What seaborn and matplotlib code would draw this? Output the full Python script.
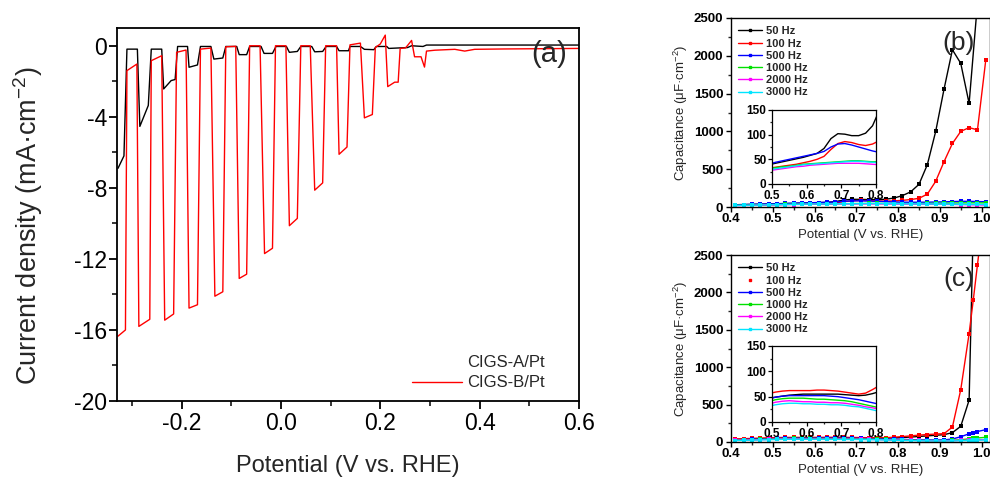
import matplotlib
matplotlib.use("Agg")
import matplotlib.pyplot as plt
from matplotlib.lines import Line2D
from matplotlib.ticker import MultipleLocator
import numpy as np
import pandas as pd
import seaborn as sns

# ---- panel (a): chopped-light LSV, vertices ----
a_black_v = [-0.328, -0.316, -0.310, -0.289, -0.284, -0.267, -0.261, -0.240, -0.236, -0.221,
             -0.213, -0.208, -0.188, -0.185, -0.168, -0.162, -0.141, -0.135, -0.117, -0.111,
             -0.089, -0.084, -0.069, -0.063, -0.040, -0.034, -0.017, -0.010, 0.011, 0.017,
             0.033, 0.040, 0.062, 0.068, 0.084, 0.091, 0.112, 0.117, 0.136, 0.139,
             0.160, 0.168, 0.187, 0.192, 0.213, 0.217, 0.255, 0.263, 0.286, 0.293, 0.600]
a_black_j = [-6.9, -6.2, -0.19, -0.19, -4.54, -3.36, -0.19, -0.19, -2.43, -1.96,
             -1.9, -0.04, -0.04, -1.21, -1.08, -0.04, -0.04, -0.75, -0.69, -0.04,
             -0.04, -0.5, -0.5, -0.04, -0.04, -0.43, -0.43, -0.04, -0.04, -0.37,
             -0.32, -0.04, -0.04, -0.34, -0.32, -0.04, -0.04, -0.28, -0.28, -0.04,
             -0.04, -0.2, -0.22, -0.04, -0.04, -0.15, -0.1, 0.0, -0.04, 0.04, 0.04]

a_red_v = [-0.328, -0.313, -0.310, -0.290, -0.286, -0.264, -0.261, -0.240, -0.234, -0.216,
           -0.210, -0.191, -0.185, -0.168, -0.162, -0.141, -0.133, -0.117, -0.111, -0.091,
           -0.084, -0.069, -0.063, -0.042, -0.033, -0.017, -0.011, 0.010, 0.017, 0.033,
           0.040, 0.059, 0.068, 0.084, 0.090, 0.112, 0.117, 0.133, 0.139, 0.160,
           0.168, 0.184, 0.190, 0.200, 0.210, 0.215, 0.229, 0.236, 0.240, 0.251,
           0.263, 0.269, 0.282, 0.289, 0.293, 0.310, 0.350, 0.370, 0.390, 0.450, 0.600]
a_red_j = [-16.35, -16.0, -1.4, -1.03, -15.8, -15.4, -0.84, -0.56, -15.45, -15.1,
           -0.37, -0.24, -14.77, -14.58, -0.19, -0.13, -14.1, -13.85, -0.06, -0.03,
           -13.1, -12.86, 0.0, 0.0, -11.7, -11.4, 0.0, 0.0, -10.13, -9.72,
           0.0, 0.0, -8.13, -7.72, 0.0, 0.0, -6.11, -5.7, 0.05, 0.15,
           -4.06, -3.87, -0.1, 0.1, 0.6, -2.3, -2.05, -2.05, -0.15, -0.12,
           0.3, -0.62, -0.62, -1.2, -0.3, -0.25, -0.2, -0.3, -0.2, -0.18, -0.15]

# ---- panels (b) and (c): capacitance vs potential ----
freqs = ["50 Hz", "100 Hz", "500 Hz", "1000 Hz", "2000 Hz", "3000 Hz"]
colors = ["black", "#ff0000", "#0000ff", "#00e000", "#ff00ff", "#00e5ff"]

b_v = [0.41, 0.43, 0.45, 0.47, 0.49, 0.51, 0.53, 0.55, 0.57, 0.59, 0.61, 0.63, 0.65, 0.67,
       0.69, 0.71, 0.73, 0.75, 0.77, 0.79, 0.81, 0.83, 0.85, 0.87, 0.89, 0.91, 0.93, 0.95,
       0.97, 0.99, 1.01]
b_50 = [30, 32, 35, 37, 39, 42, 45, 48, 51, 54, 58, 62, 72, 92, 102, 101, 98, 98, 103, 118,
        150, 200, 300, 560, 1000, 1560, 2080, 1900, 1370, 2700, 3500]
b_100 = [25, 26, 28, 30, 32, 34, 36, 38, 40, 43, 46, 50, 56, 70, 82, 86, 84, 80, 78, 81,
         88, 98, 115, 170, 340, 600, 840, 1000, 1050, 1020, 1950]
b_500 = [30, 32, 34, 37, 40, 44, 47, 50, 53, 56, 59, 62, 66, 75, 81, 82, 79, 75, 71, 67,
         64, 63, 63, 64, 66, 68, 72, 75, 75, 72, 70]
b_1000 = [22, 24, 26, 28, 31, 33, 35, 36, 38, 40, 41, 42, 43, 44, 45, 46, 47, 47, 46, 45,
          45, 45, 46, 47, 48, 50, 52, 54, 55, 55, 54]
b_2000 = [18, 20, 22, 24, 27, 29, 31, 33, 35, 36, 38, 39, 40, 41, 42, 42, 42, 42, 41, 40,
          39, 38, 38, 37, 36, 35, 34, 32, 30, 28, 26]
b_3000 = [20, 22, 24, 26, 29, 31, 33, 35, 37, 39, 40, 41, 42, 43, 44, 45, 46, 46, 45, 44,
          43, 42, 41, 40, 39, 38, 37, 36, 35, 34, 33]

c_v = [0.41, 0.43, 0.45, 0.47, 0.49, 0.51, 0.53, 0.55, 0.57, 0.59, 0.61, 0.63, 0.65, 0.67,
       0.69, 0.71, 0.73, 0.75, 0.77, 0.79, 0.81, 0.83, 0.85, 0.87, 0.89, 0.91, 0.93, 0.95,
       0.97, 0.98, 0.99, 1.01]
c_50 = [35, 38, 41, 44, 47, 49, 51, 53, 54, 55, 55, 55, 55, 55, 55, 54, 53, 52, 53, 56,
        60, 66, 74, 82, 90, 98, 125, 210, 560, 2900, 4000, 5000]
c_100 = [40, 44, 48, 52, 56, 59, 61, 62, 62, 62, 62, 63, 63, 62, 61, 59, 57, 55, 57, 64,
         72, 82, 92, 100, 106, 112, 200, 700, 1450, 1900, 2370, 3300]
c_500 = [30, 33, 36, 40, 45, 49, 51, 52, 52, 52, 52, 52, 52, 51, 50, 48, 46, 44, 41, 38,
         35, 32, 29, 27, 26, 28, 40, 70, 110, 125, 140, 165]
c_1000 = [25, 28, 31, 35, 40, 44, 46, 47, 47, 47, 46, 45, 45, 44, 43, 42, 40, 37, 34, 31,
          28, 25, 22, 20, 19, 19, 22, 30, 42, 48, 54, 62]
c_2000 = [22, 25, 28, 31, 35, 39, 41, 42, 41, 40, 40, 39, 39, 38, 38, 37, 35, 33, 30, 28,
          25, 23, 21, 19, 18, 18, 19, 22, 26, 28, 30, 32]
c_3000 = [20, 22, 25, 28, 31, 34, 36, 37, 37, 36, 36, 35, 35, 34, 34, 33, 31, 30, 27, 24,
          21, 19, 17, 15, 14, 14, 15, 17, 20, 22, 24, 27]


def long_frame(v, series):
    rows = []
    for name, vals in zip(freqs, series):
        rows.append(pd.DataFrame({"V": v, "C": vals, "freq": name}))
    return pd.concat(rows, ignore_index=True)


df_b = long_frame(b_v, [b_50, b_100, b_500, b_1000, b_2000, b_3000])
df_c = long_frame(c_v, [c_50, c_100, c_500, c_1000, c_2000, c_3000])

sns.set_style("ticks")
plt.rcParams["font.family"] = ["Liberation Sans", "DejaVu Sans"]
plt.rcParams["mathtext.fontset"] = "custom"
plt.rcParams["mathtext.rm"] = "Liberation Sans"
plt.rcParams["mathtext.it"] = "Liberation Sans:italic"
plt.rcParams["mathtext.bf"] = "Liberation Sans:bold"

W, H = 990, 482
fig = plt.figure(figsize=(W / 100, H / 100), dpi=100)
fig.patch.set_facecolor("white")


def box(l, t, r, b):
    return [l / W, 1 - b / H, (r - l) / W, (b - t) / H]


def style_ticks(ax, size, lw, major, minor, bold=False):
    for s in ax.spines.values():
        s.set_linewidth(lw)
        s.set_color("black")
        s.set_visible(True)
    ax.tick_params(which="major", direction="out", length=major, width=lw,
                   labelsize=size, colors="black", pad=2)
    ax.tick_params(which="minor", direction="out", length=minor, width=lw)
    if bold:
        for lab in ax.get_xticklabels() + ax.get_yticklabels():
            lab.set_fontweight("bold")
    ax.set_facecolor("white")


# ---------------- (a) ----------------
ax = fig.add_axes(box(117, 28, 579, 401))
sns.lineplot(x=a_black_v, y=a_black_j, sort=False, estimator=None, color="black",
             lw=1.0, ax=ax)
sns.lineplot(x=a_red_v, y=a_red_j, sort=False, estimator=None, color="#ff0000",
             lw=1.0, ax=ax)
ax.set_xlim(-0.33, 0.6)
ax.set_ylim(-20, 1)
ax.xaxis.set_minor_locator(MultipleLocator(0.1))
ax.yaxis.set_minor_locator(MultipleLocator(2))
ax.set_xticks([-0.2, 0.0, 0.2, 0.4, 0.6])
ax.set_xticklabels(["-0.2", "0.0", "0.2", "0.4", "0.6"])
ax.set_yticks([0, -4, -8, -12, -16, -20])
ax.set_yticklabels(["0", "-4", "-8", "-12", "-16", "-20"])
style_ticks(ax, 16.5, 1.3, 6, 3.5)
ax.tick_params(axis="y", pad=1)
ax.set_xlabel("Potential (V vs. RHE)", fontsize=17, labelpad=14)
ax.set_ylabel("Current density (mA·cm$^{-2}$)", fontsize=19.5)
ax.yaxis.set_label_coords(-0.155, 0.47)
ax.text(0.975, 0.93, "(a)", transform=ax.transAxes, ha="right", va="center", fontsize=21)
handles = [Line2D([], [], color="none", lw=1), Line2D([], [], color="#ff0000", lw=1)]
ax.legend(handles, ["CIGS-A/Pt", "CIGS-B/Pt"], loc="lower right",
          bbox_to_anchor=(0.958, -0.012), frameon=False, fontsize=12,
          handlelength=3.0, handletextpad=0.3, labelspacing=0.35)


# ---------------- (b), (c) ----------------
def cap_panel(rect, inset_rect, df, tag, leg_handles):
    ax = fig.add_axes(box(*rect))
    sns.lineplot(data=df, x="V", y="C", hue="freq", palette=colors, hue_order=freqs,
                 sort=False, estimator=None, lw=1.0, marker="s", markersize=2.5,
                 markeredgewidth=0, legend=False, ax=ax)
    ax.set_xlim(0.4, 1.02)
    ax.set_ylim(0, 2500)
    ax.xaxis.set_major_locator(MultipleLocator(0.1))
    ax.xaxis.set_minor_locator(MultipleLocator(0.05))
    ax.yaxis.set_major_locator(MultipleLocator(500))
    ax.yaxis.set_minor_locator(MultipleLocator(250))
    style_ticks(ax, 9.5, 1.0, 3.5, 2, bold=True)
    ax.tick_params(axis="x", pad=1)
    ax.set_xlabel("Potential (V vs. RHE)", fontsize=9.5, labelpad=3)
    ax.set_ylabel("Capacitance (μF·cm$^{-2}$)", fontsize=9.5, labelpad=3)
    ax.text(0.88, 0.87, tag, transform=ax.transAxes, ha="center", va="center",
            fontsize=19)
    ax.legend(leg_handles, freqs, loc="upper left", bbox_to_anchor=(-0.005, 1.0),
              frameon=False, prop={"size": 8, "weight": "bold"}, handlelength=2.2,
              handletextpad=0.3, labelspacing=0.2, borderpad=0.25)

    ins = fig.add_axes(box(*inset_rect))
    sns.lineplot(data=df, x="V", y="C", hue="freq", palette=colors, hue_order=freqs,
                 sort=False, estimator=None, lw=1.0, legend=False, ax=ins)
    ins.set_xlim(0.5, 0.8)
    ins.set_ylim(0, 150)
    ins.xaxis.set_major_locator(MultipleLocator(0.1))
    ins.xaxis.set_minor_locator(MultipleLocator(0.05))
    ins.yaxis.set_major_locator(MultipleLocator(50))
    ins.yaxis.set_minor_locator(MultipleLocator(25))
    style_ticks(ins, 8.5, 0.9, 3, 1.5, bold=True)
    ins.tick_params(pad=1)
    ins.set_xlabel("")
    ins.set_ylabel("")
    return ax


def freq_handles(dot_only_red=False):
    hs = []
    for i, c in enumerate(colors):
        if dot_only_red and i == 1:
            hs.append(Line2D([], [], color=c, lw=0, marker="s", markersize=2))
        else:
            hs.append(Line2D([], [], color=c, lw=1.0, marker="s", markersize=2))
    return hs


cap_panel((731, 18, 990, 207), (772, 110, 876, 184), df_b, "(b)", freq_handles())
cap_panel((731, 255, 990, 442), (772, 346, 876, 422), df_c, "(c)", freq_handles(True))

fig.savefig("out.png", dpi=100, facecolor="white")
